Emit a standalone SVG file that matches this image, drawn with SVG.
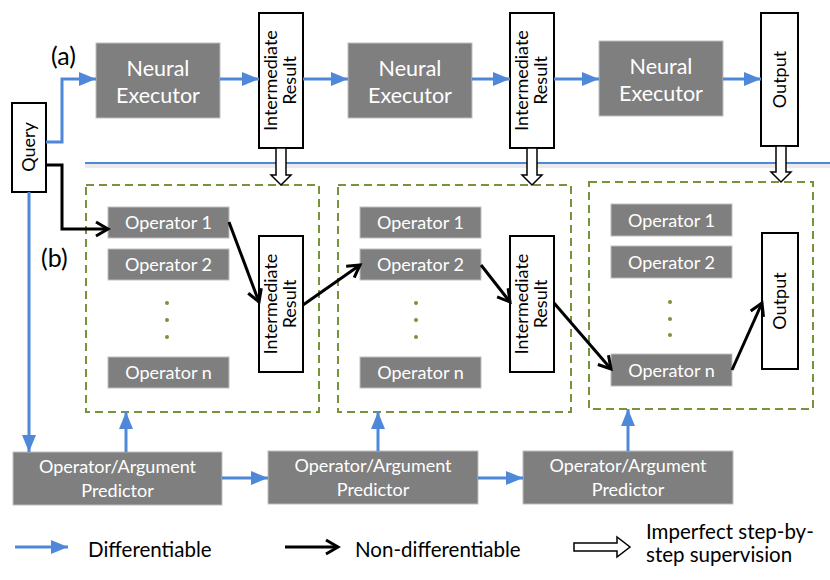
<svg xmlns="http://www.w3.org/2000/svg" width="830" height="580" viewBox="0 0 830 580">
<defs>
<style>
.g{fill:#7f7f7f;stroke:#bfbfbf;stroke-width:1}
.w{fill:#fff;stroke:#000;stroke-width:2}
.t{font-family:Lato,"Open Sans","DejaVu Sans",sans-serif;fill:#fff;text-anchor:middle}
.k{font-family:Lato,"Open Sans","DejaVu Sans",sans-serif;fill:#000;text-anchor:middle}
.ne{font-size:21.5px}
.op{font-size:18px}
.pr{font-size:18px}
.vt{font-size:18px}
.lg{font-family:Lato,"Open Sans","DejaVu Sans",sans-serif;fill:#000;font-size:20.5px}
.lab{font-family:Lato,"Open Sans","DejaVu Sans",sans-serif;fill:#000;font-size:25px}
.dash{fill:none;stroke:#77933c;stroke-width:2;stroke-dasharray:8,5}
.bl{fill:none;stroke:#4f88d8;stroke-width:3;marker-end:url(#ab)}
.bk{fill:none;stroke:#000;stroke-width:3;marker-end:url(#ak)}
.ho{fill:#fff;stroke:#000;stroke-width:1.5}
.dot{fill:#77933c}
</style>
<marker id="ab" markerUnits="userSpaceOnUse" markerWidth="18" markerHeight="14" refX="17" refY="7" orient="auto"><path d="M0,0 L17,7 L0,14 Z" fill="#4f88d8"/></marker>
<marker id="ak" markerUnits="userSpaceOnUse" markerWidth="18" markerHeight="18" refX="15" refY="9" orient="auto"><path d="M3,2 L15,9 L3,16" fill="none" stroke="#000" stroke-width="3"/></marker>
</defs>
<rect width="830" height="580" fill="#fff"/>

<!-- separator line -->
<line x1="85" y1="166" x2="830" y2="166" stroke="#000" stroke-opacity="0.08" stroke-width="4"/>
<line x1="85" y1="163" x2="830" y2="163" stroke="#4f88d8" stroke-width="2"/>

<g id="labels">
<text class="lab" x="51" y="65">(a)</text>
<text class="lab" x="41" y="267">(b)</text>
</g>

<g id="query"><rect class="w" x="12" y="103" width="34" height="89"/><text class="k vt" transform="translate(29,147) rotate(-90)" y="6">Query</text></g>

<g id="ne1"><rect class="g" x="96" y="43" width="124" height="75"/><text class="t ne" x="158" y="76">Neural</text><text class="t ne" x="158" y="103">Executor</text></g>
<g id="ir1"><rect class="w" x="259" y="13" width="44" height="135"/><text class="k vt" transform="translate(281,80.5) rotate(-90)"><tspan x="0" y="-4">Intermediate</tspan><tspan x="0" y="15">Result</tspan></text></g>
<g id="ne2"><rect class="g" x="348" y="43" width="124" height="75"/><text class="t ne" x="410" y="76">Neural</text><text class="t ne" x="410" y="103">Executor</text></g>
<g id="ir2"><rect class="w" x="510" y="13" width="44" height="135"/><text class="k vt" transform="translate(532,80.5) rotate(-90)"><tspan x="0" y="-4">Intermediate</tspan><tspan x="0" y="15">Result</tspan></text></g>
<g id="ne3"><rect class="g" x="599" y="41" width="124" height="75"/><text class="t ne" x="661" y="74">Neural</text><text class="t ne" x="661" y="101">Executor</text></g>
<g id="out1"><rect class="w" x="761" y="13" width="37" height="133"/><text class="k vt" transform="translate(779.5,79.5) rotate(-90)" y="6">Output</text></g>

<g id="box1">
<rect class="dash" x="86" y="185" width="233" height="227"/>
<rect class="g" x="108" y="207" width="121" height="31"/><text class="t op" x="168.5" y="229">Operator 1</text>
<rect class="g" x="108" y="249" width="121" height="31"/><text class="t op" x="168.5" y="271">Operator 2</text>
<circle class="dot" cx="167" cy="303" r="2"/><circle class="dot" cx="167" cy="320" r="2"/><circle class="dot" cx="167" cy="337" r="2"/>
<rect class="g" x="108" y="357" width="121" height="31"/><text class="t op" x="168.5" y="379">Operator n</text>
<rect class="w" x="259" y="236" width="44" height="136"/><text class="k vt" transform="translate(281,304) rotate(-90)"><tspan x="0" y="-4">Intermediate</tspan><tspan x="0" y="15">Result</tspan></text>
</g>

<g id="box2">
<rect class="dash" x="338" y="185" width="233" height="227"/>
<rect class="g" x="360" y="207" width="121" height="31"/><text class="t op" x="420.5" y="229">Operator 1</text>
<rect class="g" x="360" y="249" width="121" height="31"/><text class="t op" x="420.5" y="271">Operator 2</text>
<circle class="dot" cx="416" cy="303" r="2"/><circle class="dot" cx="416" cy="320" r="2"/><circle class="dot" cx="416" cy="337" r="2"/>
<rect class="g" x="360" y="357" width="121" height="31"/><text class="t op" x="420.5" y="379">Operator n</text>
<rect class="w" x="510" y="236" width="44" height="136"/><text class="k vt" transform="translate(532,304) rotate(-90)"><tspan x="0" y="-4">Intermediate</tspan><tspan x="0" y="15">Result</tspan></text>
</g>

<g id="box3">
<rect class="dash" x="589" y="182" width="224" height="227"/>
<rect class="g" x="611" y="204" width="121" height="32"/><text class="t op" x="671.5" y="226.5">Operator 1</text>
<rect class="g" x="611" y="246" width="121" height="32"/><text class="t op" x="671.5" y="268.5">Operator 2</text>
<circle class="dot" cx="670" cy="302" r="2"/><circle class="dot" cx="670" cy="319" r="2"/><circle class="dot" cx="670" cy="335" r="2"/>
<rect class="g" x="611" y="354" width="121" height="32"/><text class="t op" x="671.5" y="376.5">Operator n</text>
<rect class="w" x="762" y="233" width="36" height="136"/><text class="k vt" transform="translate(780,301) rotate(-90)" y="6">Output</text>
</g>

<g id="pred1"><rect class="g" x="13" y="452" width="209" height="53"/><text class="t pr" x="117.5" y="473">Operator/Argument</text><text class="t pr" x="117.5" y="497">Predictor</text></g>
<g id="pred2"><rect class="g" x="268" y="451" width="210" height="53"/><text class="t pr" x="373" y="472">Operator/Argument</text><text class="t pr" x="373" y="496">Predictor</text></g>
<g id="pred3"><rect class="g" x="523" y="451" width="210" height="53"/><text class="t pr" x="628" y="472">Operator/Argument</text><text class="t pr" x="628" y="496">Predictor</text></g>

<g id="connectors">
<path class="bl" d="M46,142 H62 V79 H96"/>
<path class="bl" d="M220,79 H259"/>
<path class="bl" d="M303,79 H348"/>
<path class="bl" d="M472,79 H510"/>
<path class="bl" d="M554,79 H599"/>
<path class="bl" d="M723,79 H761"/>
<path class="bl" d="M29,192 V452"/>
<path class="bl" d="M126,452 V412"/>
<path class="bl" d="M378,451 V412"/>
<path class="bl" d="M628,451 V409"/>
<path class="bl" d="M222,478 H268"/>
<path class="bl" d="M478,478 H523"/>
<path class="bk" d="M46,165 H62 V229 H108"/>
<path class="bk" d="M229,222 L259,302"/>
<path class="bk" d="M303,305 L360,265"/>
<path class="bk" d="M481,265 L510,302"/>
<path class="bk" d="M554,303 L611,369"/>
<path class="bk" d="M732,370 L762,303"/>
<polygon class="ho" points="276,148 286,148 286,175 291,175 281,185 271,175 276,175"/>
<polygon class="ho" points="527,148 537,148 537,175 542,175 532,185 522,175 527,175"/>
<polygon class="ho" points="776,146 786,146 786,172 791,172 781,182 771,172 776,172"/>
</g>

<g id="legend">
<path class="bl" d="M15,547 H68"/>
<text class="lg" x="88" y="557">Differentiable</text>
<path class="bk" d="M285,547 H338"/>
<text class="lg" x="355" y="557">Non-differentiable</text>
<polygon class="ho" points="574,543 617,543 617,537 630,547 617,557 617,551 574,551"/>
<text class="lg" x="646" y="539">Imperfect step-by-</text>
<text class="lg" x="646" y="562">step supervision</text>
</g>
</svg>
